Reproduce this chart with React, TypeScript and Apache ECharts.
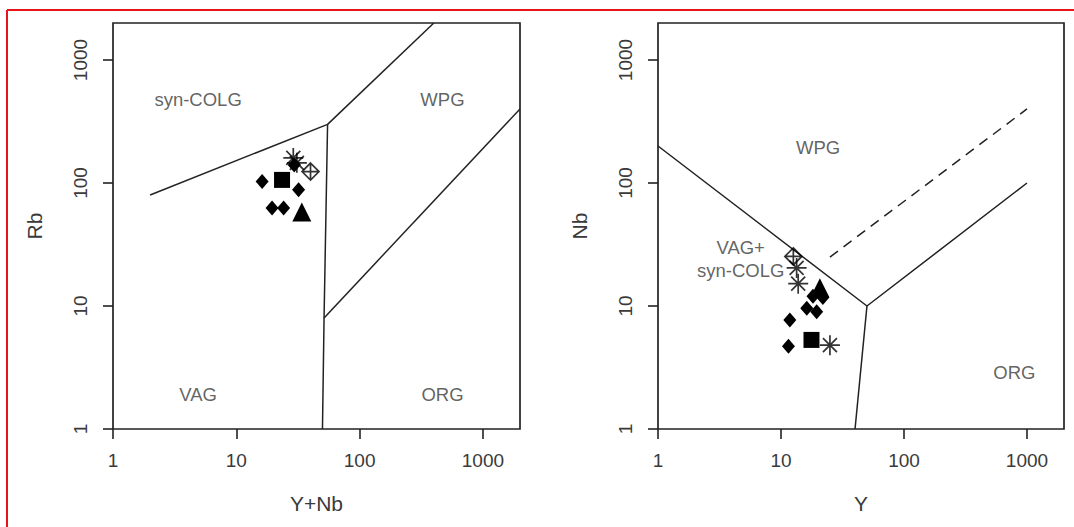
import React, { useEffect, useRef } from "react";
import * as echarts from "echarts";

// ---- axis data ----
const tickValues = [1, 10, 100, 1000];
const axisMin = 1;
const axisMax = 2000;
const leftXName = "Y+Nb";
const leftYName = "Rb";
const rightXName = "Y";
const rightYName = "Nb";

// ---- left panel (Rb vs Y+Nb) boundaries ----
const leftBoundaries = [
  [[2, 80], [55, 300]],
  [[55, 300], [400, 2000]],
  [[55, 300], [51.5, 8], [50, 1]],
  [[51.5, 8], [2000, 400]],
];
const leftFieldLabels = [
  { text: "syn-COLG", at: [4.9, 475] },
  { text: "WPG", at: [470, 475] },
  { text: "VAG", at: [4.9, 1.9] },
  { text: "ORG", at: [470, 1.9] },
];
// ---- left panel samples ----
const leftDiamonds = [[16.2, 103], [32, 88], [19.5, 62.6], [24.2, 62.6], [29.5, 140]];
const leftSquares = [[23.5, 106]];
const leftTriangles = [[34, 58]];
const leftAsterisks = [[29, 160], [31, 146]];
const leftDiamondPlus = [[40, 124]];

// ---- right panel (Nb vs Y) boundaries ----
const rightBoundaries = [
  [[1, 200], [50, 10], [1000, 100]],
  [[50, 10], [40, 1]],
];
const rightDashed = [[[25, 25], [1000, 400]]];
const rightFieldLabels = [
  { text: "WPG", at: [20, 194] },
  { text: "VAG+\nsyn-COLG", at: [4.7, 24] },
  { text: "ORG", at: [790, 2.87] },
];
// ---- right panel samples ----
const rightDiamonds = [[18.2, 12], [21.9, 11.7], [16.2, 9.6], [19.5, 9.0], [11.8, 7.7], [11.5, 4.7]];
const rightSquares = [[17.7, 5.3]];
const rightTriangles = [[20.7, 14.1]];
const rightAsterisks = [[13.4, 20.4], [13.8, 15.2], [25, 4.8]];
const rightDiamondPlus = [[12.6, 25.3]];

const INK = "#222";
const TEXT = "#3a3a3a";
const FONT = "Liberation Sans, Arial, sans-serif";
const ASTERISK = "path://M10,0 L10,20 M0,10 L20,10 M3,3 L17,17 M3,17 L17,3";
const DIAMOND_PLUS = "path://M10,0 L20,10 L10,20 L0,10 Z M10,0 L10,20 M0,10 L20,10";

function makeAxis(kind: "x" | "y", gridIndex: number, name: string) {
  const isY = kind === "y";
  return {
    type: "log",
    logBase: 10,
    gridIndex,
    min: axisMin,
    max: axisMax,
    name,
    nameLocation: "middle",
    nameGap: isY ? 68 : 64,
    nameRotate: isY ? 90 : 0,
    nameTextStyle: { fontFamily: FONT, fontSize: 21, color: TEXT },
    axisLine: { show: false },
    splitLine: { show: false },
    minorTick: { show: false },
    axisTick: {
      show: true,
      inside: false,
      length: 10,
      customValues: tickValues,
      lineStyle: { color: INK, width: 1.6 },
    },
    axisLabel: {
      show: true,
      customValues: tickValues,
      rotate: isY ? 90 : 0,
      margin: isY ? 23 : 22,
      fontFamily: FONT,
      fontSize: 19,
      color: TEXT,
      formatter: (v: number) => String(Math.round(v)),
    },
  };
}

function lineSeries(segs: number[][][], idx: number, dashed = false) {
  return segs.map((seg) => ({
    type: "line",
    xAxisIndex: idx,
    yAxisIndex: idx,
    data: seg,
    symbol: "none",
    silent: true,
    lineStyle: { color: INK, width: 1.5, type: dashed ? [10, 7] : "solid" },
    z: 2,
  }));
}

function pointSeries(data: number[][], idx: number, symbol: string, size: number | number[], open = false) {
  return {
    type: "scatter",
    xAxisIndex: idx,
    yAxisIndex: idx,
    data,
    symbol,
    symbolSize: size,
    itemStyle: open
      ? { color: "rgba(0,0,0,0)", borderColor: "#000", borderWidth: 1.7 }
      : { color: "#000", opacity: 1 },
    z: 3,
  };
}

function labelSeries(labels: { text: string; at: number[] }[], idx: number) {
  return {
    type: "scatter",
    xAxisIndex: idx,
    yAxisIndex: idx,
    symbolSize: 0,
    silent: true,
    data: labels.map((l) => ({ value: l.at, name: l.text })),
    label: {
      show: true,
      position: "inside",
      formatter: (p: any) => p.name,
      fontFamily: FONT,
      fontSize: 18.5,
      lineHeight: 23,
      color: TEXT,
      align: "center",
    },
    z: 4,
  };
}

export default function App() {
  const ref = useRef<HTMLDivElement>(null);
  useEffect(() => {
    if (!ref.current) return;
    const chart = echarts.init(ref.current, undefined, { renderer: "svg" });
    const option: any = {
      animation: false,
      backgroundColor: "#fff",
      grid: [
        { left: 113, top: 23, width: 407, height: 406, show: true, borderColor: INK, borderWidth: 1.7, backgroundColor: "transparent" },
        { left: 658, top: 23, width: 406, height: 406, show: true, borderColor: INK, borderWidth: 1.7, backgroundColor: "transparent" },
      ],
      xAxis: [makeAxis("x", 0, leftXName), makeAxis("x", 1, rightXName)],
      yAxis: [makeAxis("y", 0, leftYName), makeAxis("y", 1, rightYName)],
      series: [
        ...lineSeries(leftBoundaries, 0),
        pointSeries(leftDiamonds, 0, "diamond", [13, 15]),
        pointSeries(leftSquares, 0, "rect", 16),
        pointSeries(leftTriangles, 0, "triangle", 19),
        pointSeries(leftAsterisks, 0, ASTERISK, 20, true),
        pointSeries(leftDiamondPlus, 0, DIAMOND_PLUS, 17, true),
        labelSeries(leftFieldLabels, 0),
        ...lineSeries(rightBoundaries, 1),
        ...lineSeries(rightDashed, 1, true),
        pointSeries(rightDiamonds, 1, "diamond", [13, 15]),
        pointSeries(rightSquares, 1, "rect", 16),
        pointSeries(rightTriangles, 1, "triangle", 19),
        pointSeries(rightAsterisks, 1, ASTERISK, 20, true),
        pointSeries(rightDiamondPlus, 1, DIAMOND_PLUS, 17, true),
        labelSeries(rightFieldLabels, 1),
      ],
      graphic: [
        { type: "line", shape: { x1: 7, y1: 10, x2: 1074, y2: 10 }, style: { stroke: "#e8141c", lineWidth: 2 }, z: 10 },
        { type: "line", shape: { x1: 7, y1: 10, x2: 7, y2: 527 }, style: { stroke: "#e8141c", lineWidth: 2 }, z: 10 },
      ],
    };
    chart.setOption(option);
    return () => chart.dispose();
  }, []);
  return (
    <div
      ref={ref}
      style={{ position: "absolute", left: 0, top: 0, width: 1074, height: 527 }}
    />
  );
}
